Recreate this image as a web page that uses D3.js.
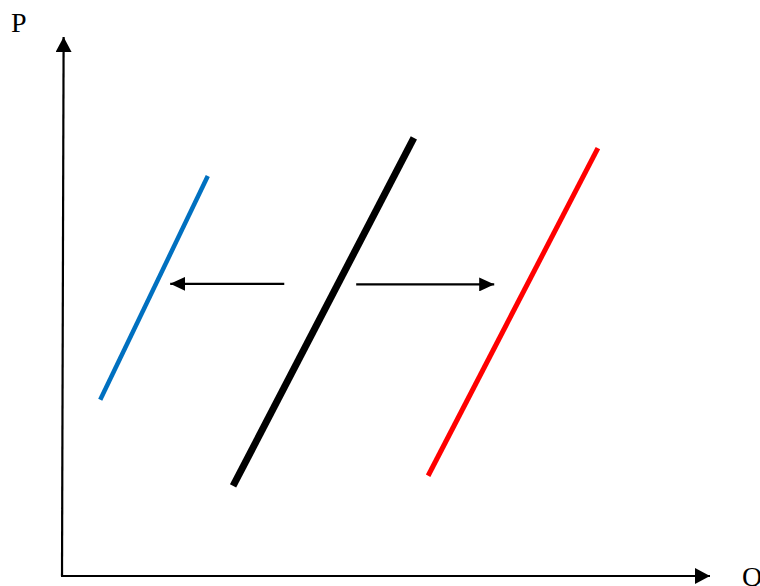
<!doctype html>
<html lang="en">
<head>
  <meta charset="utf-8">
  <title>Supply shift</title>
  <style>
    * { margin: 0; padding: 0; box-sizing: border-box; }
    body { background: #fff; }
    .lbl { font-family: "Liberation Serif", "DejaVu Serif", serif; font-size: 28px; fill: #000; }
  </style>
</head>
<body>
  <div id="container"></div>
  <script src="https://cdn.jsdelivr.net/npm/d3@7/dist/d3.min.js"></script>
  <script>
    // curves: [q0, p0, q1, p1] in chart units (0..10 on both axes)
    const curveNames = ['left', 'base', 'right'];
    const curveEnds = [
      [0.59, 3.27, 2.25, 7.42],
      [2.64, 1.67, 5.43, 8.13],
      [5.65, 1.86, 8.27, 7.94]
    ];
    const curveColors = ['#0070c0', '#000000', '#ff0000'];
    const curveWidths = [4.5, 7, 5];

    // shift arrows: [qFrom, qTo, p]
    const shiftArrows = [
      [3.43, 1.67, 5.42],
      [4.54, 6.67, 5.41]
    ];

    const axisLabels = ['P', 'Q'];

    const W = 760, H = 586;
    const svg = d3.select('#container').append('svg').attr('width', W).attr('height', H);

    const x = d3.scaleLinear().domain([0, 10]).range([62, 710]);
    const y = d3.scaleLinear().domain([0, 10]).range([576, 37]);

    // arrow heads
    const defs = svg.append('defs');
    function head(id, len, wid) {
      defs.append('marker')
        .attr('id', id)
        .attr('viewBox', `0 0 ${len} ${wid}`)
        .attr('refX', len).attr('refY', wid / 2)
        .attr('markerWidth', len).attr('markerHeight', wid)
        .attr('markerUnits', 'userSpaceOnUse')
        .attr('orient', 'auto')
        .append('path')
        .attr('d', `M0,0L${len},${wid / 2}L0,${wid}Z`)
        .attr('fill', '#000');
    }
    head('axisHead', 15, 16);
    head('smallHead', 15, 14);

    // axes
    svg.append('line')
      .attr('x1', x(0)).attr('y1', y(0))
      .attr('x2', x(0.025)).attr('y2', y(10))
      .attr('stroke', '#000').attr('stroke-width', 2.2)
      .attr('marker-end', 'url(#axisHead)');
    svg.append('line')
      .attr('x1', x(0) - 1).attr('y1', y(0))
      .attr('x2', x(10)).attr('y2', y(0))
      .attr('stroke', '#000').attr('stroke-width', 2.2)
      .attr('marker-end', 'url(#axisHead)');

    svg.append('text').attr('class', 'lbl').attr('x', 11).attr('y', 32).text(axisLabels[0]);
    svg.append('text').attr('class', 'lbl').attr('x', 742).attr('y', 586).text(axisLabels[1]);

    // curves
    svg.selectAll('line.curve')
      .data(curveEnds)
      .join('line')
      .attr('class', (d, i) => 'curve ' + curveNames[i])
      .attr('x1', d => x(d[0])).attr('y1', d => y(d[1]))
      .attr('x2', d => x(d[2])).attr('y2', d => y(d[3]))
      .attr('stroke', (d, i) => curveColors[i])
      .attr('stroke-width', (d, i) => curveWidths[i]);

    // shift arrows
    svg.selectAll('line.shift')
      .data(shiftArrows)
      .join('line')
      .attr('class', 'shift')
      .attr('x1', d => x(d[0])).attr('y1', d => y(d[2]))
      .attr('x2', d => x(d[1])).attr('y2', d => y(d[2]))
      .attr('stroke', '#000').attr('stroke-width', 2.2)
      .attr('marker-end', 'url(#smallHead)');
  </script>
</body>
</html>
